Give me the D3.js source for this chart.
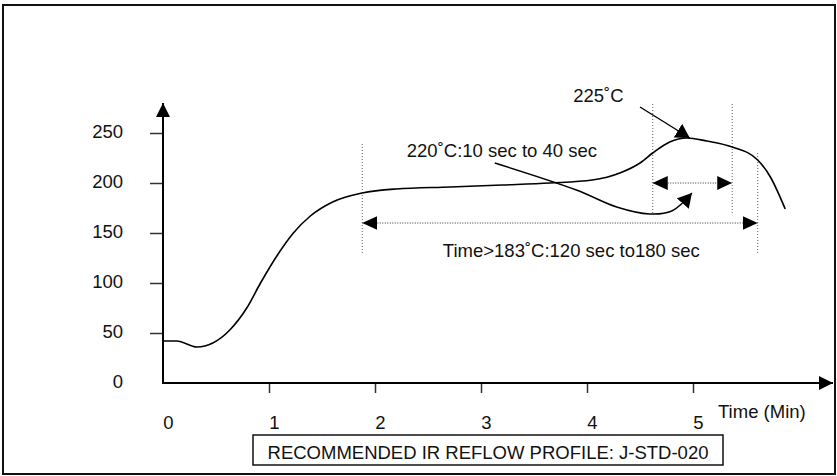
<!DOCTYPE html>
<html>
<head>
<meta charset="utf-8">
<script src="https://cdn.jsdelivr.net/npm/d3@7"></script>
<style>
  body { margin: 0; background: #fff; }
  svg text { font-family: "Liberation Sans", Arial, Helvetica, sans-serif; font-size: 18.5px; fill: #111; }
</style>
</head>
<body>
<div id="chart"></div>
<script>
// reflow profile (time in min, temperature in deg C)
var profileTime = [0, 0.13, 0.32, 0.47, 0.63, 0.79, 0.92, 1.08, 1.23, 1.39, 1.6, 1.88, 2.2, 2.71, 3.2, 3.65, 4.05, 4.31, 4.5, 4.62, 4.78, 4.94, 5.13, 5.37, 5.61, 5.73, 5.87];
var profileTemp = [42, 42, 36, 40, 53, 75, 100, 128, 150, 167, 181, 190, 194, 196, 198, 200, 203, 210, 220, 230, 241, 245, 242, 236, 223, 206, 174];

var xTicks = [0, 1, 2, 3, 4, 5];
var yTicks = [0, 50, 100, 150, 200, 250];

// limits of the marked time windows (min)
var above183 = [1.88, 5.61];
var above220 = [4.62, 5.37];

// annotation arrows, in (min, deg C)
var peakArrow = [[4.5, 276], [4.97, 245]];
var soakArrow = [[3.13, 220], [3.9, 193], [4.28, 176], [4.59, 169], [4.8, 172], [4.99, 190]];

var labels = [
  {text: "225˚C", t: 3.87, v: 281},
  {text: "220˚C:10 sec to 40 sec", t: 2.30, v: 226},
  {text: "Time>183˚C:120 sec to180 sec", t: 2.64, v: 126}
];

var W = 837, H = 476;
var svg = d3.select("#chart").append("svg").attr("width", W).attr("height", H);

var x = d3.scaleLinear().domain([0, 6]).range([163, 163 + 6 * 106]);
var y = d3.scaleLinear().domain([0, 250]).range([383, 133]);

// outer frame
svg.append("rect")
  .attr("x", 3).attr("y", 5).attr("width", 832).attr("height", 469)
  .attr("fill", "none").attr("stroke", "#111").attr("stroke-width", 2);

var defs = svg.append("defs");
function marker(id, len, half) {
  defs.append("marker")
    .attr("id", id)
    .attr("viewBox", "0 0 " + len + " " + (half * 2))
    .attr("refX", len).attr("refY", half)
    .attr("markerWidth", len).attr("markerHeight", half * 2)
    .attr("markerUnits", "userSpaceOnUse")
    .attr("orient", "auto-start-reverse")
    .append("path")
    .attr("d", "M0,0L" + len + "," + half + "L0," + (half * 2) + "Z")
    .attr("fill", "#000");
}
marker("axisArrow", 14, 7);
marker("dimArrow", 15, 7);
marker("noteArrow", 14, 8);

// axes
var xAxis = d3.axisBottom(x).tickValues(xTicks).tickFormat(d3.format("d")).tickSize(10).tickPadding(23);
var gx = svg.append("g").attr("transform", "translate(0," + y(0) + ")").call(xAxis);
gx.select(".domain").remove();
gx.selectAll(".tick line").attr("stroke", "#333").attr("stroke-width", 1.5)
  .filter(function(d) { return d === 0; }).remove();
gx.selectAll(".tick text").attr("x", 5).attr("font-size", null).attr("font-family", null);

var yAxis = d3.axisLeft(y).tickValues(yTicks).tickFormat(d3.format("d")).tickSize(13).tickPadding(27);
var gy = svg.append("g").attr("transform", "translate(" + x(0) + ",0)").call(yAxis);
gy.select(".domain").remove();
gy.selectAll(".tick line").attr("stroke", "#333").attr("stroke-width", 1.5)
  .filter(function(d) { return d === 0; }).remove();
gy.selectAll(".tick text").attr("font-size", null).attr("font-family", null).attr("dy", "0.22em");

svg.append("line")
  .attr("x1", x(0)).attr("y1", y(0)).attr("x2", 833).attr("y2", y(0))
  .attr("stroke", "#000").attr("stroke-width", 2).attr("marker-end", "url(#axisArrow)");
svg.append("line")
  .attr("x1", x(0)).attr("y1", y(0) + 1).attr("x2", x(0)).attr("y2", 103)
  .attr("stroke", "#000").attr("stroke-width", 2).attr("marker-end", "url(#axisArrow)");

svg.append("text").attr("x", 718).attr("y", 418).text("Time (Min)");

// dotted window limits
var guides = [
  {t: above183[0], v0: 130, v1: 241},
  {t: above220[0], v0: 170, v1: 281},
  {t: above220[1], v0: 170, v1: 281},
  {t: above183[1], v0: 130, v1: 231}
];
svg.selectAll("line.guide").data(guides).enter().append("line")
  .attr("class", "guide")
  .attr("x1", function(d) { return x(d.t); }).attr("x2", function(d) { return x(d.t); })
  .attr("y1", function(d) { return y(d.v0); }).attr("y2", function(d) { return y(d.v1); })
  .attr("stroke", "#666").attr("stroke-width", 1).attr("stroke-dasharray", "1,2");

// dimension arrows
var dims = [
  {t0: above183[0], t1: above183[1], v: 160},
  {t0: above220[0], t1: above220[1], v: 200}
];
svg.selectAll("line.dim").data(dims).enter().append("line")
  .attr("class", "dim")
  .attr("x1", function(d) { return x(d.t0); }).attr("x2", function(d) { return x(d.t1); })
  .attr("y1", function(d) { return y(d.v); }).attr("y2", function(d) { return y(d.v); })
  .attr("stroke", "#333").attr("stroke-width", 1.2).attr("stroke-dasharray", "1,1.5")
  .attr("marker-start", "url(#dimArrow)").attr("marker-end", "url(#dimArrow)");

// profile curve
var profile = profileTime.map(function(t, i) { return [t, profileTemp[i]]; });
var line = d3.line()
  .x(function(d) { return x(d[0]); })
  .y(function(d) { return y(d[1]); })
  .curve(d3.curveMonotoneX);
svg.append("path").datum(profile)
  .attr("d", line)
  .attr("fill", "none").attr("stroke", "#000").attr("stroke-width", 1.6);

// note arrows
svg.append("path").datum(peakArrow)
  .attr("d", d3.line().x(function(d) { return x(d[0]); }).y(function(d) { return y(d[1]); }))
  .attr("fill", "none").attr("stroke", "#000").attr("stroke-width", 1.4)
  .attr("marker-end", "url(#noteArrow)");
svg.append("path").datum(soakArrow)
  .attr("d", d3.line().x(function(d) { return x(d[0]); }).y(function(d) { return y(d[1]); }).curve(d3.curveCatmullRom))
  .attr("fill", "none").attr("stroke", "#000").attr("stroke-width", 1.4)
  .attr("marker-end", "url(#noteArrow)");

svg.selectAll("text.note").data(labels).enter().append("text")
  .attr("class", "note")
  .attr("x", function(d) { return x(d.t); })
  .attr("y", function(d) { return y(d.v); })
  .text(function(d) { return d.text; });

// title box
svg.append("rect")
  .attr("x", 253).attr("y", 435).attr("width", 470).attr("height", 30)
  .attr("fill", "#fff").attr("stroke", "#111").attr("stroke-width", 1.5);
svg.append("text")
  .attr("x", 488).attr("y", 459).attr("text-anchor", "middle")
  .text("RECOMMENDED IR REFLOW PROFILE: J-STD-020");
</script>
</body>
</html>
